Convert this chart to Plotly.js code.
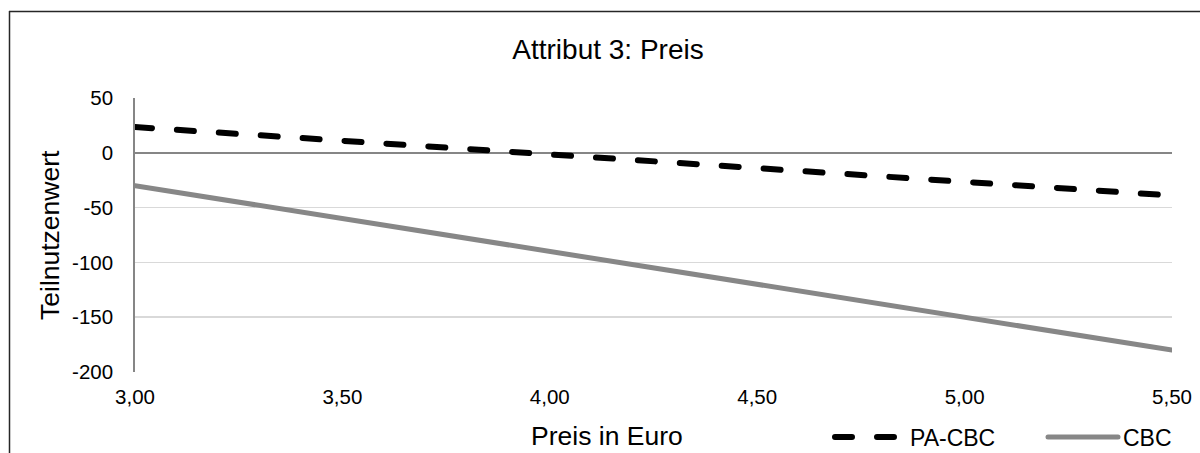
<!DOCTYPE html>
<html>
<head>
<meta charset="utf-8">
<script src="https://cdn.plot.ly/plotly-3.0.1.min.js"></script>
<style>
html,body{margin:0;padding:0;background:#fff;}
#chart{width:1200px;height:453px;}
.scatterlayer .js-line, .legendlines path{stroke-linecap:round;}
</style>
</head>
<body>
<div id="chart"></div>
<script>
// Data
const preis = [3.0, 3.5, 4.0, 4.5, 5.0, 5.5];
const paCbc = [23.5, 11, -1.5, -14, -26.5, -39];
const cbc = [-30, -60, -90, -120, -150, -180];
const xTickVals = [3.0, 3.5, 4.0, 4.5, 5.0, 5.5];
const xTickText = ['3,00', '3,50', '4,00', '4,50', '5,00', '5,50'];
const yTickVals = [-200, -150, -100, -50, 0, 50];
const yTickText = ['-200', '-150', '-100', '-50', '0', '50'];

const FONT = 'Liberation Sans, Arial, sans-serif';

const traces = [
  {
    x: preis, y: paCbc, name: 'PA-CBC', type: 'scatter', mode: 'lines',
    line: {color: '#000000', width: 6, dash: '17px,25px'}
  },
  {
    x: preis, y: cbc, name: 'CBC', type: 'scatter', mode: 'lines',
    line: {color: '#878787', width: 5}
  }
];

const L = 135, R = 1172, T = 98, B = 372;
const W = R - L, H = B - T;
function px(x){ return (x - L) / W; }
function py(y){ return (B - y) / H; }

const layout = {
  width: 1200, height: 453,
  margin: {l: L, r: 1200 - R, t: T, b: 453 - B, pad: 0, autoexpand: false},
  paper_bgcolor: '#ffffff', plot_bgcolor: '#ffffff',
  font: {family: FONT, color: '#000000'},
  title: {
    text: 'Attribut 3: Preis',
    font: {family: FONT, size: 28, color: '#000000'},
    x: 608 / 1200, xanchor: 'center', xref: 'container',
    y: 1 - 49 / 453, yanchor: 'middle', yref: 'container'
  },
  showlegend: true,
  legend: {
    orientation: 'h', x: px(830), xanchor: 'left', y: py(437), yanchor: 'middle',
    font: {family: FONT, size: 23, color: '#000000'},
    itemwidth: 70, entrywidth: 128, entrywidthmode: 'pixels',
    bgcolor: 'rgba(0,0,0,0)', borderwidth: 0
  },
  xaxis: {
    range: [3.0, 5.5], tickvals: xTickVals, ticktext: xTickText,
    showgrid: false, zeroline: false, showline: false,
    ticks: '', ticklabelstandoff: 10,
    tickfont: {family: FONT, size: 20.5, color: '#000000'},
    fixedrange: true
  },
  yaxis: {
    range: [-200, 50], tickvals: yTickVals, ticktext: yTickText,
    showgrid: true, gridcolor: '#d9d9d9', gridwidth: 1.5,
    zeroline: true, zerolinecolor: '#868686', zerolinewidth: 1.8,
    showline: true, linecolor: '#868686', linewidth: 1.8,
    ticks: '', ticklabelstandoff: 16,
    tickfont: {family: FONT, size: 20.5, color: '#000000'},
    fixedrange: true
  },
  annotations: [
    {
      text: 'Preis in Euro', xref: 'paper', yref: 'paper',
      x: px(607), y: py(436), xanchor: 'center', yanchor: 'middle',
      showarrow: false, font: {family: FONT, size: 26.5, color: '#000000'}
    },
    {
      text: 'Teilnutzenwert', xref: 'paper', yref: 'paper', textangle: -90,
      x: px(50), y: py(235), xanchor: 'center', yanchor: 'middle',
      showarrow: false, font: {family: FONT, size: 26.5, color: '#000000'}
    }
  ],
  shapes: [
    {type: 'line', xref: 'paper', yref: 'paper', x0: px(9), x1: px(1210), y0: py(11.5), y1: py(11.5),
     line: {color: '#262626', width: 1.5}},
    {type: 'line', xref: 'paper', yref: 'paper', x0: px(9.5), x1: px(9.5), y0: py(11), y1: py(470),
     line: {color: '#262626', width: 1.5}}
  ]
};

Plotly.newPlot('chart', traces, layout, {staticPlot: true, displayModeBar: false});
</script>
</body>
</html>
